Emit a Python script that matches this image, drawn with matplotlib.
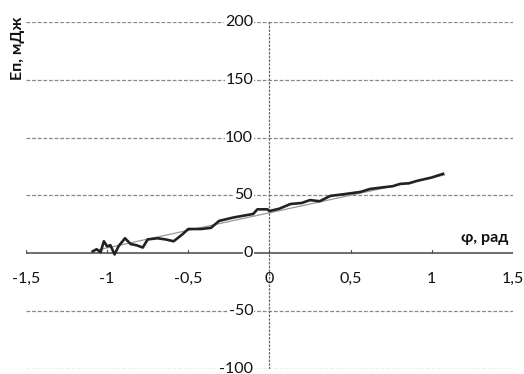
import matplotlib
matplotlib.use("Agg")
import matplotlib.pyplot as plt
import numpy as np

plt.rcParams['font.family'] = ['Lato', 'DejaVu Sans']

phi = [-1.089, -1.065, -1.04, -1.02, -1.00, -0.98, -0.954, -0.93, -0.89, -0.855,
       -0.82, -0.78, -0.75, -0.69, -0.64, -0.59, -0.535, -0.50, -0.42, -0.36,
       -0.31, -0.22, -0.10, -0.074, -0.012, 0.0, 0.06, 0.13, 0.20, 0.25, 0.31,
       0.375, 0.455, 0.56, 0.62, 0.70, 0.76, 0.806, 0.86, 0.91, 1.0, 1.07]
energy = [1.7, 3.5, 1.0, 10.4, 6.0, 7.0, -1.0, 6.0, 13.0, 8.0,
          7.0, 5.0, 12.0, 13.0, 12.0, 10.4, 16.5, 21.0, 21.0, 22.0,
          28.0, 31.0, 34.0, 38.0, 38.0, 36.5, 38.5, 42.6, 43.5, 46.0, 45.0,
          49.6, 51.0, 53.0, 55.6, 57.0, 58.0, 60.0, 60.5, 62.6, 65.5, 68.7]

# linear trend
trend_k, trend_b = 30.3, 35.0
trend_x = [-1.08, 1.08]

yticks = [200, 150, 100, 50, 0, -50, -100]
xticks = [-1.5, -1, -0.5, 0, 0.5, 1, 1.5]
xtick_labels = ["-1,5", "-1", "-0,5", "0", "0,5", "1", "1,5"]

fig = plt.figure(figsize=(5.24, 3.74), dpi=100)
ax = fig.add_axes([0.0496, 0.0134, 0.929, 0.928])
ax.set_xlim(-1.5, 1.5)
ax.set_ylim(-100, 200)
ax.axis("off")

for yv in yticks:
    if yv == 0:
        ax.plot([-1.5, 1.5], [0, 0], color="#555555", lw=1.2, zorder=1)
    else:
        ax.plot([-1.5, 1.5], [yv, yv], color="#888888", lw=0.9, ls=(0, (3, 1.5)), zorder=1)
ax.plot([0, 0], [-100, 200], color="#666666", lw=0.9, ls=(0, (2, 1)), zorder=1)

for xv in xticks:
    ax.plot([xv, xv], [0, 3], color="#555555", lw=0.8, zorder=1)

for yv in yticks:
    ax.text(-0.1, yv, str(yv), ha="right", va="center", fontsize=11.5,
            color="#111111", zorder=3,
            bbox=dict(facecolor="white", edgecolor="none", pad=0.5))
for xv, lab in zip(xticks, xtick_labels):
    ax.text(xv, -22, lab, ha="center", va="center", fontsize=11.5,
            color="#111111", zorder=3)

ax.plot(trend_x, [trend_k * v + trend_b for v in trend_x], color="#999999",
        lw=0.9, zorder=2)
ax.plot(phi, energy, color="#222222", lw=1.9, zorder=4)

fig.text(0.035, 0.955, "Еп, мДж", rotation=90, ha="center", va="top",
         fontsize=11.5, fontweight="bold", color="#111111")
ax.text(1.47, 7, "φ, рад", ha="right", va="bottom", fontsize=11.5,
        fontweight="bold", color="#111111")

fig.savefig("out.png", dpi=100)
